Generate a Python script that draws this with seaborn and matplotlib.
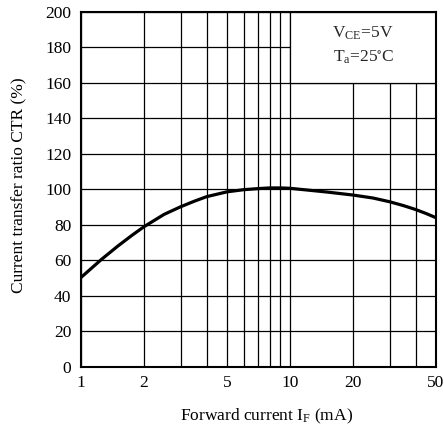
import matplotlib
matplotlib.use("Agg")
import matplotlib.pyplot as plt
import seaborn as sns
import pandas as pd
from matplotlib.patches import Rectangle

# ---- data ----
forward_current = [1, 1.25, 1.5, 1.75, 2, 2.5, 3, 3.5, 4, 5, 6, 7, 8, 9, 10,
                   15, 20, 25, 30, 35, 40, 45, 50]
ctr_percent = [50.3, 60.4, 68.0, 74.0, 78.9, 85.9, 90.2, 93.4, 95.9, 98.6, 99.8,
               100.4, 100.8, 100.8, 100.6, 98.5, 96.8, 95.1, 93.0, 90.8, 88.6, 86.3, 84]

x_grid = [1, 2, 3, 4, 5, 6, 7, 8, 9, 10, 20, 30, 40, 50]
x_tick_labels = [1, 2, 5, 10, 20, 50]
y_ticks = list(range(0, 201, 20))
cond_lines = [r"$\mathregular{V_{CE}}$=5V", r"$\mathregular{T_a}$=25$\mathregular{^{\circ}}$C"]

sns.set_theme(style="white")
plt.rcParams["font.family"] = ["Liberation Serif", "DejaVu Serif"]
plt.rcParams["mathtext.fontset"] = "custom"
plt.rcParams["mathtext.rm"] = "Liberation Serif"

fig = plt.figure(figsize=(4.44, 4.25), dpi=100)
ax = fig.add_axes([81 / 444, 1 - 366.7 / 425, 355 / 444, 354.7 / 425])

df = pd.DataFrame({"If": forward_current, "CTR": ctr_percent})

ax.set_xscale("log")
ax.set_xlim(1, 50)
ax.set_ylim(0, 200)

# grid
for xv in x_grid:
    ax.axvline(xv, color="black", lw=0.9, zorder=1)
for yv in y_ticks:
    ax.axhline(yv, color="black", lw=0.9, zorder=1)

# condition box (covers the grid in the top-right cells)
ax.add_patch(Rectangle((10, 160), 40, 40, facecolor="white", edgecolor="black",
                       lw=0.9, zorder=2))
ax.text(22.4, 188, cond_lines[0], ha="center", va="center", fontsize=12.5, zorder=3)
ax.text(22.4, 174.5, cond_lines[1], ha="center", va="center", fontsize=12.5, zorder=3)

sns.lineplot(data=df, x="If", y="CTR", ax=ax, color="black", lw=2.3, zorder=4)

ax.set_xticks(x_tick_labels)
ax.set_xticklabels([str(v) for v in x_tick_labels])
ax.xaxis.set_minor_locator(matplotlib.ticker.NullLocator())
ax.set_yticks(y_ticks)
ax.tick_params(axis="both", length=0, labelsize=12.5, colors="black")
ax.tick_params(axis="x", pad=6)
ax.tick_params(axis="y", pad=7)

for sp in ax.spines.values():
    sp.set_color("black")
    sp.set_linewidth(1.5)
    sp.set_zorder(5)

ax.set_xlabel(r"Forward current $\mathregular{I_F}$ (mA)", fontsize=12.5, color="black")
ax.set_ylabel("Current transfer ratio CTR (%)", fontsize=12.5, color="black")
ax.xaxis.set_label_coords(0.5225, -0.113)
ax.yaxis.set_label_coords(-0.152, 0.512)

fig.savefig("out.png", dpi=100, facecolor="white")
